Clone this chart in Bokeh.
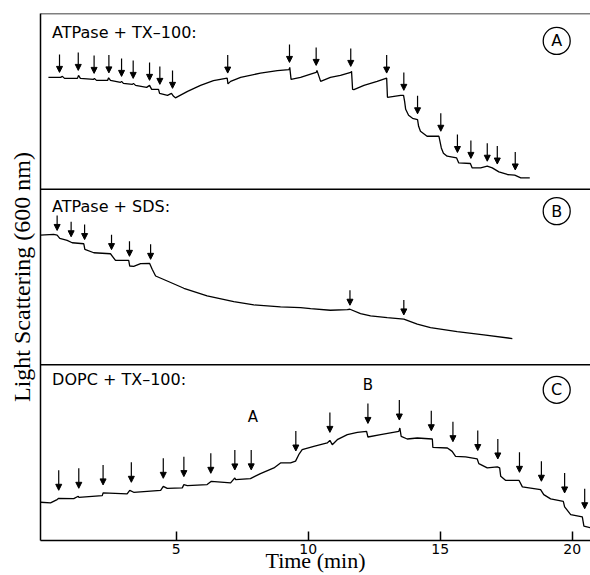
import numpy as np
from bokeh.plotting import figure
from bokeh.models import (Range1d, LinearAxis, Span, Arrow, NormalHead,
                          ColumnDataSource, FixedTicker, Label)
from bokeh.embed import file_html
from bokeh.resources import INLINE

# ---------------- data (time in min, light scattering in arbitrary units) ----------------
time_A = [0.16, 0.62, 0.69, 0.77, 1.26, 1.30, 1.37, 1.87, 1.90, 1.98, 2.40, 2.44, 2.51, 2.89,
          2.93, 3.00, 3.34, 3.38, 3.46, 3.88, 3.99, 4.07, 4.33, 4.37, 4.67, 4.82, 4.90, 4.97,
          5.43, 5.92, 6.41, 6.93, 6.96, 7.06, 7.44, 8.19, 8.83, 9.27, 9.30, 9.35, 9.71, 10.09,
          10.30, 10.33, 10.47, 10.84, 11.22, 11.61, 11.64, 11.68, 11.73, 12.11, 12.61, 12.97,
          13.00, 13.50, 13.61, 13.65, 13.69, 13.80, 13.95, 14.14, 14.18, 14.25, 14.50, 14.95,
          15.04, 15.12, 15.26, 15.62, 15.70, 16.14, 16.21, 16.53, 16.78, 16.97, 17.22, 17.54,
          17.82, 18.05, 18.39]
scatter_A = [112, 112, 113, 111, 111, 114, 111, 110, 111, 109, 109, 111.5, 109, 107,
             108, 106, 105, 106, 104, 102, 104, 100, 100, 96, 94, 96, 93, 91.5,
             98, 104, 108.7, 111.3, 105.5, 108, 112, 116.3, 118.7, 119.7, 122, 110, 112, 115.3,
             117, 119, 108, 112, 114, 117, 118, 100, 99.7, 104, 108, 111.3,
             92, 94, 94, 88, 80, 74, 71, 69.7, 63, 58, 53, 53,
             41.3, 36, 33, 31.3, 26.3, 25.7, 21.3, 21.3, 23, 21.3, 17.3, 14.7,
             14, 11.3, 11.3]
additions_A = [0.58, 1.29, 1.89, 2.45, 2.93, 3.37, 3.99, 4.38, 4.86, 6.95, 9.29, 10.30,
               11.61, 12.97, 13.62, 14.14, 15.02, 15.65, 16.16, 16.78, 17.16, 17.84]

time_B = [-0.14, 0.36, 0.49, 0.59, 0.87, 1.06, 1.50, 1.54, 1.88, 2.51, 2.70, 3.20, 3.24,
          3.39, 3.65, 3.99, 4.09, 4.22, 4.66, 5.29, 6.17, 7.18, 7.94, 8.95, 9.71, 10.09,
          10.84, 11.48, 11.58, 11.98, 12.36, 12.99, 13.62, 14.13, 14.63, 15.64, 16.65, 17.73]
scatter_B = [130, 130.7, 130, 126.7, 124.7, 122.3, 121.3, 115.7, 112.3, 111.3, 104.7, 104.7, 99,
             98.7, 101.3, 101.7, 95.7, 89, 84, 76.7, 69, 63.3, 60, 58, 57.3, 56.3,
             54.7, 55.3, 55.7, 51.3, 49, 47.3, 45.7, 40.7, 37.3, 33.3, 30, 26.3]
additions_B = [0.49, 1.02, 1.53, 2.55, 3.23, 4.03, 11.58, 13.62]

time_C = [-0.14, 0.24, 0.49, 0.55, 1.12, 1.29, 1.31, 2.20, 2.23, 3.14, 3.24, 3.39, 4.41,
          4.51, 4.66, 5.23, 5.29, 5.42, 6.17, 6.33, 7.06, 7.22, 7.25, 7.81, 8.19, 8.70,
          8.95, 9.33, 9.52, 9.64, 9.77, 10.21, 10.72, 10.82, 10.91, 11.10, 11.48, 11.86,
          12.21, 12.26, 12.74, 13.43, 13.47, 13.52, 13.75, 14.13, 14.70, 14.72, 15.27,
          15.45, 15.58, 15.96, 16.40, 16.46, 16.78, 17.16, 17.25, 17.29, 17.47, 17.98,
          18.11, 18.80, 18.92, 19.18, 19.66, 19.71, 19.94, 20.38, 20.44, 20.69]
scatter_C = [38.3, 37.7, 41, 42.3, 42, 44.3, 43.3, 45, 47.7, 46.7, 50.3, 48.3, 50.3,
             54.3, 52.3, 52.7, 56, 55, 56, 59.3, 57.7, 62.7, 61, 62, 67, 72.7,
             77.7, 77.7, 79.5, 86, 91, 94.3, 97.7, 100.3, 96, 101, 106, 108.3,
             109.3, 103.7, 106, 109.3, 112.7, 104.3, 101.7, 102.7, 101.7, 93.3, 92.7,
             89.3, 84.3, 83.7, 81.7, 77, 72.7, 73.7, 72.7, 64.3, 60.3, 60.3,
             53.7, 51, 46, 41.7, 39.3, 33.7, 26, 23.7, 14.3, 12.7]
additions_C = [0.55, 1.31, 2.23, 3.30, 4.51, 5.29, 6.31, 7.22, 7.84, 9.53, 10.82, 12.26,
               13.45, 14.66, 15.48, 16.42, 17.18, 18.00, 18.83, 19.71, 20.47]

panel_titles = ["ATPase + TX\u2013100:", "ATPase + SDS:", "DOPC + TX\u2013100:"]
panel_tags = ["A", "B", "C"]
x_ticks = [5, 10, 15, 20]
x_tick_labels = {5: "5", 10: "10", 15: "15", 20: "20"}
phase_labels = ["A", "B"]
phase_times = [7.9, 12.26]
phase_levels = [124, 156]

# ---------------- styling constants ----------------
SPAN = 176.0          # a.u. shown per panel
SANS = "DejaVu Sans"
SERIF = "Liberation Serif"

p = figure(width=590, height=575, output_backend="svg", toolbar_location=None,
           x_range=Range1d(-0.14, 20.69), y_range=Range1d(0, 3),
           y_axis_location=None,
           min_border_left=40, min_border_right=0, min_border_top=13, min_border_bottom=0)
p.title.visible = False
p.outline_line_color = None
p.grid.visible = False
p.background_fill_color = "white"

# bottom axis
xa = p.xaxis[0]
xa.ticker = FixedTicker(ticks=x_ticks)
xa.major_label_overrides = x_tick_labels
xa.major_tick_in = 9
xa.major_tick_out = 0
xa.minor_tick_in = 0
xa.minor_tick_out = 0
xa.axis_line_width = 1.5
xa.major_tick_line_width = 1.5
xa.major_label_text_font = SANS
xa.major_label_text_font_size = "14px"
xa.major_label_standoff = 3
xa.major_label_text_color = "black"
xa.axis_label = "Time (min)"
xa.axis_label_text_font = SERIF
xa.axis_label_text_font_size = "22px"
xa.axis_label_text_font_style = "normal"
xa.axis_label_standoff = -9
xa.axis_label_text_color = "black"

# left axis: only the border line and the label
ya = LinearAxis(ticker=FixedTicker(ticks=[]), axis_label="Light Scattering (600 nm)")
ya.axis_line_width = 1.5
ya.major_tick_in = 0
ya.major_tick_out = 0
ya.minor_tick_in = 0
ya.minor_tick_out = 0
ya.major_label_text_font_size = "0px"
ya.major_label_standoff = 0
ya.axis_label_text_font = SERIF
ya.axis_label_text_font_size = "24px"
ya.axis_label_text_font_style = "normal"
ya.axis_label_standoff = 6
ya.axis_label_text_color = "black"
p.add_layout(ya, "left")

# panel separators and top border
for loc in [1, 2, 3]:
    p.add_layout(Span(location=loc, dimension="width", line_color="black", line_width=1.5))

traces = [(time_A, scatter_A, additions_A), (time_B, scatter_B, additions_B),
          (time_C, scatter_C, additions_C)]
arrow_gap = [5, 4, 8]
arrow_len = [18, 15, 20]
tag_levels = [148.5, 154, 151]
title_levels = [157, 159, 161]

for i, (t, v, adds) in enumerate(traces):
    name = "panel" + panel_tags[i]
    bottom = 2 - i
    p.extra_y_ranges[name] = Range1d(-bottom * SPAN, (3 - bottom) * SPAN)

    p.line(t, v, y_range_name=name, line_color="black", line_width=1.3)

    # addition arrows
    tn = np.array(t, dtype=float)
    vn = np.array(v, dtype=float)
    tips, tops = [], []
    for a in adds:
        w = np.linspace(a - 0.12, a + 0.03, 16)
        lev = np.interp(w, tn, vn).max()
        tips.append(lev + arrow_gap[i])
        tops.append(lev + arrow_gap[i] + arrow_len[i])
    src = ColumnDataSource(dict(x0=adds, y0=tops, x1=adds, y1=tips))
    p.add_layout(Arrow(x_start="x0", y_start="y0", x_end="x1", y_end="y1", source=src,
                       y_range_name=name, line_color="black", line_width=1.2,
                       end=NormalHead(size=6, fill_color="black", line_color="black",
                                      line_width=1)))

    # panel title
    p.add_layout(Label(x=0.30, y=title_levels[i], y_range_name=name, text=panel_titles[i],
                       text_font=SANS, text_font_size="16px", text_baseline="middle",
                       text_color="black"))
    # circled panel tag
    p.scatter([19.41], [tag_levels[i]], y_range_name=name, marker="circle", size=27,
              fill_color=None, line_color="black", line_width=1.3)
    p.add_layout(Label(x=19.41, y=tag_levels[i], y_range_name=name, text=panel_tags[i],
                       text_font=SANS, text_font_size="16px", text_align="center",
                       text_baseline="middle", text_color="black"))

# phase labels in panel C
for lab, tt, lv in zip(phase_labels, phase_times, phase_levels):
    p.add_layout(Label(x=tt, y=lv, y_range_name="panelC", text=lab, text_font=SANS,
                       text_font_size="15px", text_align="center", text_baseline="middle",
                       text_color="black"))

open("out.html", "w").write(file_html(p, INLINE))
